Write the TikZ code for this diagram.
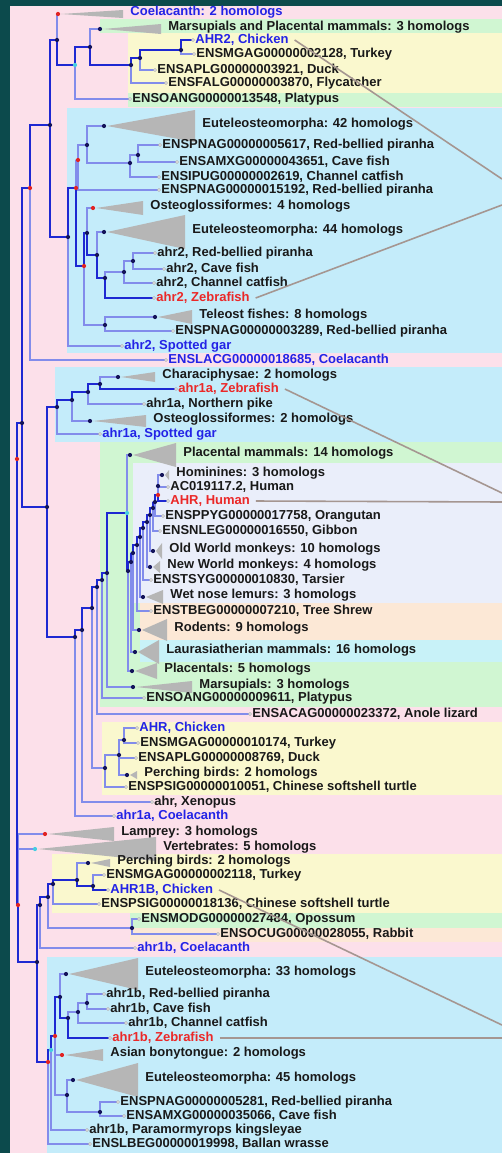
\documentclass[tikz,border=0pt]{standalone}
\usepackage{fontspec}
\setmainfont{Liberation Sans}
\newcommand{\treefont}{\fontsize{7.4}{8}\selectfont\bfseries}

\definecolor{teal0}{RGB}{12,74,76}
\definecolor{pinkbg}{RGB}{252,224,234}
\definecolor{bluebg}{RGB}{196,236,250}
\definecolor{greenbg}{RGB}{208,246,210}
\definecolor{yellowbg}{RGB}{250,248,206}
\definecolor{lilacbg}{RGB}{234,238,250}
\definecolor{peachbg}{RGB}{252,232,214}
\definecolor{cyanbg}{RGB}{200,242,248}
\definecolor{hlblue}{RGB}{30,40,210}
\definecolor{brblue}{RGB}{130,140,235}
\definecolor{navy}{RGB}{20,20,90}
\definecolor{dupred}{RGB}{225,35,35}
\definecolor{spcyan}{RGB}{70,205,225}
\definecolor{txtblue}{RGB}{35,35,230}
\definecolor{txtred}{RGB}{235,40,40}
\definecolor{txtblack}{RGB}{25,25,25}
\definecolor{wedge}{RGB}{182,182,182}
\definecolor{callout}{RGB}{165,150,145}

\pgfdeclarelayer{back}
\pgfdeclarelayer{mid}
\pgfsetlayers{back,mid,main}

\begin{document}
\begin{tikzpicture}[x=0.02cm,y=-0.02cm]
\tikzstyle{leaf}=[anchor=west,inner xsep=1.2pt,inner ysep=0pt,font=\treefont,text=txtblack]
\tikzstyle{dot}=[circle,inner sep=0pt,minimum size=2.4pt,fill=navy]
\tikzstyle{dup}=[dot,fill=dupred]
\tikzstyle{spec}=[dot,fill=spcyan]
\tikzstyle{br}=[draw=brblue,line width=0.6pt]
\tikzstyle{hl}=[draw=hlblue,line width=1.3pt]
\tikzstyle{tip}=[draw=gray!70,fill=white,line width=0.3pt]
\tikzstyle{call}=[draw=callout,line width=0.9pt]
\useasboundingbox (0,0) rectangle (502,1153);

% internal nodes
\foreach \n/\px/\py/\d in {R0/17/459/dup, Rb/18/905/dup, R1/22/423/dot,
  A/30/188/dup, B/50/125/dot, C/57/40/dot, D/75/65/spec, E/90/47/dot,
  F/131/65/dot, H/140/58/dot, G/181/50/dot, I/68/237/dot, J/76/188/dup,
  K/78/160/dup, M/87/145/dot, N/130/163/dot, O/138/155/dot, L/84/266/dup,
  S/87/233/dot, T/97/255/dot, U/105/278/dot, V/124/272/dot, W/133/261/dot,
  R/105/325/dot, Y/47/507/dot, a4/57/407/dot, a3/72/400/dot, a2/88/392/dot,
  a1/100/384/dot, b1/75/637/dot, b2/82/630/dot, b3/92/608/dot, b4/97/587/dot,
  b5/102/580/dot, b6/107/573/dot, b7/127/513/spec, s1/128/571/dot,
  s2/131/562/dot, s3/133/553/dot, s4/137/545/dot, s5/140/537/dot,
  s6/143/528/dot, s7/147/522/dot, s8/150/515/dot, s9/153/508/dot,
  s10/155/502/dot, s11/158/495/dup, s12/158/486/dot, bd1/105/768/dot,
  bd2/119/755/dot, bd3/124/740/dot, c0/37/962/dot, c1/40/905/dot,
  c2/48/897/dot, c3/53/884/dot, c4/77/880/dot, c5/93/886/dot,
  c6/132/928/dot, f0/48/1062/dup, f1/51/1050/spec, f2/55/1036/dup,
  f3/60/997/dot, f4/68/1018/dot, f5/78/1012/dot, f6/87/1003/dot,
  f7/67/1095/dot, f8/100/1112/dot}
  \node[\d] (\n) at (\px,\py) {};

% collapsed clades
\foreach \n/\px/\py/\bx/\h/\d/\c/\t in {
  Cl1/58/14/123/4/dup/txtblue/{Coelacanth: 2 homologs},
  Cl2/100/29/161/5/dot/txtblack/{Marsupials and Placental mammals: 3 homologs},
  Cl3/104/126/195/16/dot/txtblack/{Euteleosteomorpha: 42 homologs},
  Cl4/93/208/143/7/dup/txtblack/{Osteoglossiformes: 4 homologs},
  Cl5/104/232/185/17/dot/txtblack/{Euteleosteomorpha: 44 homologs},
  Cl6/155/317/192/7/dot/txtblack/{Teleost fishes: 8 homologs},
  Cl7/118/377/155/5/dot/txtblack/{Characiphysae: 2 homologs},
  Cl8/90/421/146/6/dot/txtblack/{Osteoglossiformes: 2 homologs},
  Cl9/130/455/176/12/dot/txtblack/{Placental mammals: 14 homologs},
  Cl10/162/475/169/5/dot/txtblack/{Hominines: 3 homologs},
  Cl11/153/551/162/8/dot/txtblack/{Old World monkeys: 10 homologs},
  Cl12/150/567/160/6/dot/txtblack/{New World monkeys: 4 homologs},
  Cl13/143/597/163/7/dot/txtblack/{Wet nose lemurs: 3 homologs},
  Cl14/139/630/167/11/dot/txtblack/{Rodents: 9 homologs},
  Cl15/135/652/159/12/dot/txtblack/{Laurasiatherian mammals: 16 homologs},
  Cl16/132/671/157/8/dot/txtblack/{Placentals: 5 homologs},
  Cl17/133/687/192/6/dot/txtblack/{Marsupials: 3 homologs},
  Cl18/127/775/137/4/dot/txtblack/{Perching birds: 2 homologs},
  Cl19/45/834/114/7/dup/txtblack/{Lamprey: 3 homologs},
  Cl20/35/849/156/12/spec/txtblack/{Vertebrates: 5 homologs},
  Cl21/88/863/110/4/dot/txtblack/{Perching birds: 2 homologs},
  Cl22/66/974/138/16/dot/txtblack/{Euteleosteomorpha: 33 homologs},
  Cl23/62/1055/103/6/dup/txtblack/{Asian bonytongue: 2 homologs},
  Cl24/73/1080/138/17/dot/txtblack/{Euteleosteomorpha: 45 homologs}}
{
  \fill[wedge] (\px+3,\py) -- (\bx,\py-\h) -- (\bx,\py+\h) -- cycle;
  \node[\d] (\n) at (\px,\py) {};
  \node[leaf,text=\c] (\n-t) at (\bx+5,\py-2) {\t};
}

% genes
\foreach \n/\px/\py/\c/\t in {
  L1/195/40/txtblue/{AHR2, Chicken},
  L2/196/54/txtblack/{ENSMGAG00000002128, Turkey},
  L3/157/70/txtblack/{ENSAPLG00000003921, Duck},
  L4/168/83/txtblack/{ENSFALG00000003870, Flycatcher},
  L5/132/99/txtblack/{ENSOANG00000013548, Platypus},
  L6/162/145/txtblack/{ENSPNAG00000005617, Red-bellied piranha},
  L7/179/162/txtblack/{ENSAMXG00000043651, Cave fish},
  L8/161/177/txtblack/{ENSIPUG00000002619, Channel catfish},
  L9/161/190/txtblack/{ENSPNAG00000015192, Red-bellied piranha},
  L10/157/253/txtblack/{ahr2, Red-bellied piranha},
  L11/166/269/txtblack/{ahr2, Cave fish},
  L12/156/283/txtblack/{ahr2, Channel catfish},
  L13/156/298/txtred/{ahr2, Zebrafish},
  L14/175/331/txtblack/{ENSPNAG00000003289, Red-bellied piranha},
  L15/124/346/txtblue/{ahr2, Spotted gar},
  L16/168/360/txtblue/{ENSLACG00000018685, Coelacanth},
  L17/178/389/txtred/{ahr1a, Zebrafish},
  L18/146/404/txtblack/{ahr1a, Northern pike},
  L19/102/434/txtblue/{ahr1a, Spotted gar},
  L20/170/487/txtblack/{AC019117.2, Human},
  L21/170/501/txtred/{AHR, Human},
  L22/165/516/txtblack/{ENSPPYG00000017758, Orangutan},
  L23/162/531/txtblack/{ENSNLEG00000016550, Gibbon},
  L24/153/580/txtblack/{ENSTSYG00000010830, Tarsier},
  L25/153/611/txtblack/{ENSTBEG00000007210, Tree Shrew},
  L26/146/698/txtblack/{ENSOANG00000009611, Platypus},
  L27/252/714/txtblack/{ENSACAG00000023372, Anole lizard},
  L28/139/728/txtblue/{AHR, Chicken},
  L29/140/743/txtblack/{ENSMGAG00000010174, Turkey},
  L30/138/758/txtblack/{ENSAPLG00000008769, Duck},
  L31/128/787/txtblack/{ENSPSIG00000010051, Chinese softshell turtle},
  L32/154/802/txtblack/{ahr, Xenopus},
  L33/116/816/txtblue/{ahr1a, Coelacanth},
  L34/106/875/txtblack/{ENSMGAG00000002118, Turkey},
  L35/110/890/txtblue/{AHR1B, Chicken},
  L36/101/904/txtblack/{ENSPSIG00000018136, Chinese softshell turtle},
  L37/141/919/txtblack/{ENSMODG00000027484, Opossum},
  L38/220/934/txtblack/{ENSOCUG00000028055, Rabbit},
  L39/137/948/txtblue/{ahr1b, Coelacanth},
  L40/106/994/txtblack/{ahr1b, Red-bellied piranha},
  L41/110/1009/txtblack/{ahr1b, Cave fish},
  L42/128/1023/txtblack/{ahr1b, Channel catfish},
  L43/112/1038/txtred/{ahr1b, Zebrafish},
  L44/120/1102/txtblack/{ENSPNAG00000005281, Red-bellied piranha},
  L45/126/1116/txtblack/{ENSAMXG00000035066, Cave fish},
  L46/89/1130/txtblack/{ahr1b, Paramormyrops kingsleyae},
  L47/92/1144/txtblack/{ENSLBEG00000019998, Ballan wrasse}}
{
  \node[leaf,text=\c] (\n) at (\px-2,\py) {\t};
  \draw[tip] (\n.west) circle (0.9pt);
}

% taxon bands behind the tree
\begin{pgfonlayer}{back}
\fill[teal0] (0,0) rectangle (502,1153);
\foreach \c/\xa/\ya/\yb in {pinkbg/10/6/1153, greenbg/100/19/33,
  yellowbg/128/33/93, greenbg/128/93/107, bluebg/67/108/353,
  bluebg/55/367/442, greenbg/100/442/707, lilacbg/133/463/603,
  peachbg/140/603/640, cyanbg/140/640/662, yellowbg/102/722/795,
  yellowbg/52/854/913, greenbg/130/913/928, peachbg/130/928/942,
  bluebg/47/957/1153}
  \fill[\c] (\xa,\ya) rectangle (502,\yb);
\end{pgfonlayer}

\begin{pgfonlayer}{mid}
\foreach \p/\c in {A/L16, C/Cl1, D/L5, E/Cl2, F/L4, H/L3, G/L2, I/L15,
  J/K, K/M, K/L9, M/Cl3, M/N, N/O, N/L8, O/L6, O/L7, L/R, R/Cl6, R/L14,
  S/Cl4, T/Cl5, U/V, V/W, V/L12, W/L10, W/L11, a4/L19, a3/Cl8, a2/L18,
  a1/Cl7, b1/L33, b2/L32, b3/bd1, b4/L27, b5/L26, b6/Cl17, b7/Cl9,
  s1/Cl16, s2/Cl15, s3/Cl14, s4/L25, s5/Cl13, s6/L24, s7/Cl12, s8/Cl11,
  s9/L23, s10/L22, s11/s12, s12/Cl10, s12/L20, bd1/bd2, bd1/L31,
  bd2/bd3, bd2/L30, bd2/Cl18, bd3/L28, bd3/L29, Rb/Cl19, Rb/Cl20,
  c1/L39, c2/c6, c3/L36, c4/Cl21, c5/L34, c6/L37, c6/L38, f0/L47,
  f1/L46, f2/Cl23, f2/f7, f3/Cl22, f4/f5, f5/f6, f5/L42, f6/L40, f6/L41,
  f7/Cl24, f7/f8, f8/L44, f8/L45}
  \draw[br] (\p) |- (\c);
\foreach \p/\c in {R0/R1, R0/Rb, R1/A, R1/Y, A/B, B/C, B/I, C/D, D/E,
  E/F, F/H, H/G, G/L1, I/J, J/L, L/S, S/T, T/U, U/L13, Y/a4, a4/a3,
  a3/a2, a2/a1, a1/L17, Y/b1, b1/b2, b2/b3, b3/b4, b4/b5, b5/b6, b6/b7,
  b7/s1, s1/s2, s2/s3, s3/s4, s4/s5, s5/s6, s6/s7, s7/s8, s8/s9, s9/s10,
  s10/s11, s11/L21, Rb/c0, c0/c1, c1/c2, c2/c3, c3/c4, c4/c5, c5/L35,
  c0/f0, f0/f1, f1/f2, f2/f3, f3/f4, f4/L43}
  \draw[hl] (\p) |- (\c);
\end{pgfonlayer}

% pointers to the panel on the right
\coordinate (e1) at (502,179);
\coordinate (e2) at (502,205);
\coordinate (e3) at (502,493);
\coordinate (e4) at (502,502);
\coordinate (e5) at (502,1025);
\coordinate (e6) at (502,1038);
\draw[call] ([xshift=2pt]L1.east) -- (e1);
\draw[call] ([xshift=2pt]L13.east) -- (e2);
\draw[call] ([xshift=2pt]L17.east) -- (e3);
\draw[call] ([xshift=2pt]L21.east) -- (e4);
\draw[call] ([xshift=2pt]L35.east) -- (e5);
\draw[call] ([xshift=2pt]L43.east) -- (e6);
\end{tikzpicture}
\end{document}
